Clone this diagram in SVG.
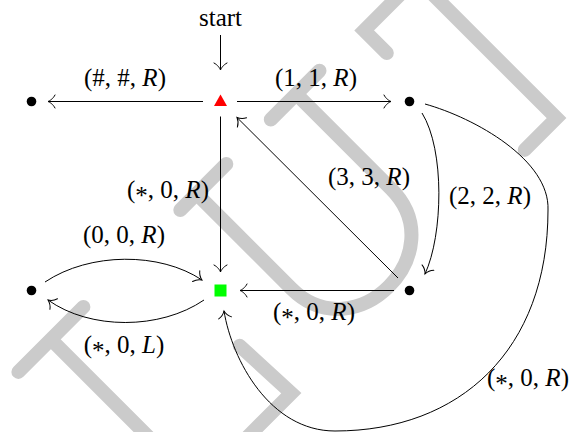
<svg xmlns="http://www.w3.org/2000/svg" width="571" height="432" viewBox="0 0 571 432">
<style>
.wm{fill:none;stroke:#cbcbcb;stroke-width:14;stroke-linecap:round;stroke-linejoin:miter}
.edge{fill:none;stroke:#000;stroke-width:1}
.lbl{font-family:"Liberation Serif","Times New Roman",serif;font-size:25px;fill:#000;text-anchor:middle}
.it{font-style:italic}
.dot{fill:#000}
</style>
<defs>
<marker id="arr" viewBox="-10 -10 20 20" markerWidth="20" markerHeight="20" refX="0" refY="0" orient="auto" markerUnits="userSpaceOnUse">
<path d="M-7,-6.5 C-5,-2.5 -1.5,-0.6 0,0 C-1.5,0.6 -5,2.5 -7,6.5" fill="none" stroke="#000" stroke-width="1" stroke-linecap="round"/>
</marker>
</defs>
<g id="watermark">
<path class="wm" d="M18.4,371.9 L83.4,306.9 M50.9,339.4 L280,568.5"/>
<path class="wm" d="M239.7,345.8 L291.3,393.2 L165.5,519"/>
<path class="wm" d="M180.3,210 L226.3,164"/>
<path class="wm" d="M196.6,193.7 L291.3,288.5 C355,352.1 454.7,252.4 391,188.8 L296.3,94"/>
<path class="wm" d="M270.8,119.5 L319.5,70.7"/>
<path class="wm" d="M386.8,53 L364.2,30.4 L409.4,-14.8"/>
<path class="wm" d="M424.3,-14.1 L556.5,118.1 L524.7,149.9"/>
</g>
<g id="connectors">
<path id="e-start" class="edge" d="M220.5,35 L220.5,70" marker-end="url(#arr)"/>
<path id="e-hash" class="edge" d="M203,101.5 L48,101.5" marker-end="url(#arr)"/>
<path id="e-11R" class="edge" d="M237,101.5 L391,101.5" marker-end="url(#arr)"/>
<path id="e-s0R-down" class="edge" d="M220.5,116.5 L220.5,272" marker-end="url(#arr)"/>
<path id="e-33R" class="edge" d="M398,278 L237,117.5" marker-end="url(#arr)"/>
<path id="e-22R" class="edge" d="M422,113 C445,150 443,235 425,274" marker-end="url(#arr)"/>
<path id="e-s0R-left" class="edge" d="M394,290.5 L240,290.5" marker-end="url(#arr)"/>
<path id="e-00R" class="edge" d="M45,282 C90,252 160,252 202,280" marker-end="url(#arr)"/>
<path id="e-s0L" class="edge" d="M204,300 C160,330 90,330 48,300" marker-end="url(#arr)"/>
<path id="e-s0R-loop" class="edge" d="M425,104 C475,118 550,160 548,210 C548,350 460,431 335,431 C270,431 232,360 224,311" marker-end="url(#arr)"/>
</g>
<g id="node-start"><text class="lbl" x="220.5" y="26">start</text></g>
<g id="node-q0"><polygon points="214,106 227,106 220.5,94.5" fill="#ff0000"/></g>
<g id="node-left-top"><circle class="dot" cx="31.5" cy="101.5" r="4.8"/></g>
<g id="node-right-top"><circle class="dot" cx="409.5" cy="101.5" r="4.8"/></g>
<g id="node-left-bottom"><circle class="dot" cx="31.5" cy="290.5" r="4.8"/></g>
<g id="node-accept"><rect x="214.5" y="284.5" width="12" height="12" fill="#00ff00"/></g>
<g id="node-right-bottom"><circle class="dot" cx="409.5" cy="290.5" r="4.8"/></g>
<g id="labels">
<text class="lbl" x="125" y="86">(#, #, <tspan class="it">R</tspan>)</text>
<text class="lbl" x="316" y="86">(1, 1, <tspan class="it">R</tspan>)</text>
<text class="lbl" x="369" y="185">(3, 3, <tspan class="it">R</tspan>)</text>
<text class="lbl" x="490" y="204">(2, 2, <tspan class="it">R</tspan>)</text>
<text class="lbl" x="168" y="198">(<tspan dy="6">*</tspan><tspan dy="-6">, 0, </tspan><tspan class="it">R</tspan>)</text>
<text class="lbl" x="124" y="243">(0, 0, <tspan class="it">R</tspan>)</text>
<text class="lbl" x="124" y="353">(<tspan dy="6">*</tspan><tspan dy="-6">, 0, </tspan><tspan class="it">L</tspan>)</text>
<text class="lbl" x="314" y="320">(<tspan dy="6">*</tspan><tspan dy="-6">, 0, </tspan><tspan class="it">R</tspan>)</text>
<text class="lbl" x="528" y="386">(<tspan dy="6">*</tspan><tspan dy="-6">, 0, </tspan><tspan class="it">R</tspan>)</text>
</g>
</svg>
